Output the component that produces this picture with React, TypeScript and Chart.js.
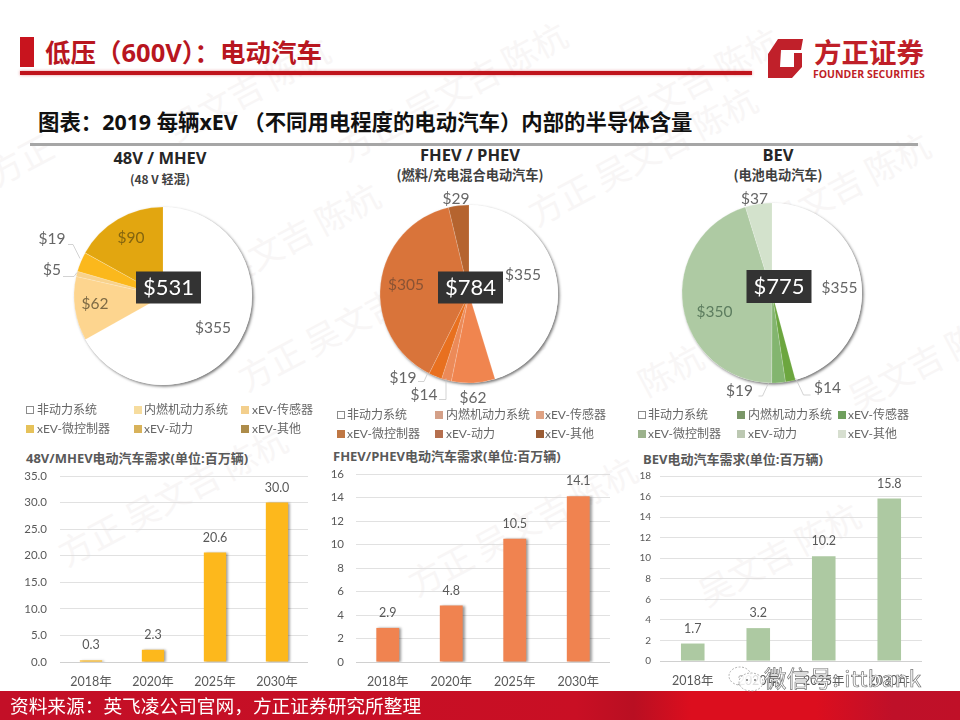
import React, { useEffect, useRef } from "react";
import { Chart, registerables } from "chart.js";

Chart.register(...registerables);

const FONT = "Lato, 'Noto Sans CJK SC', sans-serif";
const CJK = "'Noto Sans CJK SC', sans-serif";

// ---- data ----
const partCategories = ["非动力系统", "内燃机动力系统", "xEV-传感器", "xEV-微控制器", "xEV-动力", "xEV-其他"];
const mhevContent = [355, 62, 5, 19, 90];
const phevContent = [355, 62, 14, 19, 305, 29];
const bevContent = [355, 14, 19, 350, 37];
const mhevTotal = "$531";
const phevTotal = "$784";
const bevTotal = "$775";

const years = ["2018年", "2020年", "2025年", "2030年"];
const mhevDemand = [0.3, 2.3, 20.6, 30.0];
const phevDemand = [2.9, 4.8, 10.5, 14.1];
const bevDemand = [1.7, 3.2, 10.2, 15.8];

// ---- styling / layout ----
type PieCfg = {
  cx: number; cy: number; r: number; values: number[]; colors: string[]; total: string;
  box: [number, number, number, number];
  labels: { x: number; y: number; color: string; line?: [number, number][] }[];
};

const pies: PieCfg[] = [
  {
    cx: 163, cy: 295.5, r: 89, values: mhevContent, total: mhevTotal,
    colors: ["#ffffff", "#fdd58f", "#f8d28c", "#fbb81c", "#e2a610"],
    box: [136, 271, 65, 32],
    labels: [
      { x: 213, y: 327, color: "#666666" },
      { x: 95, y: 303, color: "#7d6a45" },
      { x: 52, y: 269, color: "#666666", line: [[63, 276], [74, 276], [77, 272]] },
      { x: 52, y: 238, color: "#666666", line: [[68, 244], [73, 244], [80, 258]] },
      { x: 131, y: 237, color: "#84650f" },
    ],
  },
  {
    cx: 469, cy: 293.5, r: 89, values: phevContent, total: phevTotal,
    colors: ["#ffffff", "#f0854f", "#ec8a58", "#e8701f", "#d9743a", "#b5642f"],
    box: [438, 271, 65, 32],
    labels: [
      { x: 523, y: 274, color: "#666666" },
      { x: 473, y: 397, color: "#666666" },
      { x: 424, y: 394, color: "#666666", line: [[439, 399], [446, 399], [446, 378]] },
      { x: 403, y: 377, color: "#666666", line: [[418, 381], [424, 381], [428, 372]] },
      { x: 406, y: 284, color: "#8a5334" },
      { x: 456, y: 198, color: "#666666" },
    ],
  },
  {
    cx: 771.5, cy: 293, r: 90, values: bevContent, total: bevTotal,
    colors: ["#ffffff", "#6ca63f", "#83b56f", "#aecaa3", "#d3e2cc"],
    box: [746, 270, 65, 33],
    labels: [
      { x: 839, y: 288, color: "#666666" },
      { x: 827, y: 388, color: "#666666", line: [[810, 395], [803, 395], [795, 378]] },
      { x: 739, y: 391, color: "#666666", line: [[758, 396], [762, 396], [768, 383]] },
      { x: 714, y: 312, color: "#5d7d5f" },
      { x: 754, y: 199, color: "#666666" },
    ],
  },
];

const legends = [
  {
    cols: [[26, 37], [134, 144], [241, 252]], rows: [410, 429],
    colors: ["#ffffff", "#f6dc9e", "#f3cf8d", "#e6c25a", "#d8b25a", "#ad8c4a"],
  },
  {
    cols: [[337, 347], [435, 446], [536, 545]], rows: [415, 434],
    colors: ["#ffffff", "#d4a088", "#dfa283", "#bf7744", "#b56f4e", "#9a5c34"],
  },
  {
    cols: [[638, 648], [737, 748], [838, 848]], rows: [415, 434],
    colors: ["#ffffff", "#7a9668", "#6f9f5d", "#9cb28c", "#bcc8b2", "#d7dfd0"],
  },
];

type BarCfg = {
  left: number; right: number; top: number; bottom: number; values: number[]; color: string;
  max: number; step: number; decimals: number; tickSize: number; tickPad: number; shadow: boolean;
};
const bars: BarCfg[] = [
  { left: 60, right: 308, top: 476, bottom: 662, values: mhevDemand, color: "#fdb81c", max: 35, step: 5, decimals: 1, tickSize: 11.5, tickPad: 13, shadow: true },
  { left: 356, right: 610, top: 474, bottom: 662, values: phevDemand, color: "#f08350", max: 16, step: 2, decimals: 0, tickSize: 11.5, tickPad: 12, shadow: true },
  { left: 660, right: 922, top: 476, bottom: 661, values: bevDemand, color: "#adc9a2", max: 18, step: 2, decimals: 0, tickSize: 10, tickPad: 9, shadow: false },
];

const pieHeads = [
  { x: 160, y1: 158, y2: 179, main: "48V / MHEV", sub: "(48 V 轻混)", subSize: 12 },
  { x: 470, y1: 155, y2: 175, main: "FHEV / PHEV", sub: "(燃料/充电混合电动汽车)", subSize: 13.2 },
  { x: 778, y1: 155, y2: 175, main: "BEV", sub: "(电池电动汽车)", subSize: 13.2 },
];
const barHeads = [
  { x: 26, y: 458, text: "48V/MHEV电动汽车需求(单位:百万辆)" },
  { x: 333, y: 456, text: "FHEV/PHEV电动汽车需求(单位:百万辆)" },
  { x: 643, y: 459, text: "BEV电动汽车需求(单位:百万辆)" },
];
const marks = [
  [-10, 150, "方正"], [170, 105, "吴文吉 陈杭"], [340, 125, "方正 吴文吉 陈杭"], [620, 95, "吴文吉 陈杭"],
  [530, 190, "方正 吴文吉 陈杭"], [220, 250, "吴文吉 陈杭"], [770, 200, "吴文吉 陈杭"],
  [240, 355, "方正 吴文吉 陈杭"], [640, 360, "陈杭"], [850, 375, "吴文吉 陈杭"], [60, 530, "方正 吴文吉 陈杭"],
  [410, 560, "方正 吴文吉 陈杭"], [700, 570, "吴文吉 陈杭"], [480, 340, "陈杭"],
] as [number, number, string][];

// ---- components ----
function PieChart({ cfg }: { cfg: PieCfg }) {
  const ref = useRef<HTMLCanvasElement>(null);
  const halfW = 135, halfH = 122;
  useEffect(() => {
    const ox = cfg.cx - halfW, oy = cfg.cy - halfH;
    const chart = new Chart(ref.current!, {
      type: "pie",
      data: {
        labels: partCategories,
        datasets: [{ data: cfg.values, backgroundColor: cfg.colors, borderColor: "rgba(255,255,255,0.25)", borderWidth: 0.6, radius: cfg.r }],
      },
      options: {
        responsive: false, animation: false,
        layout: { padding: 0 },
        plugins: { legend: { display: false }, tooltip: { enabled: false } },
      },
      plugins: [{
        id: "pieDecor",
        beforeDatasetsDraw(c: any) {
          const arc = c.getDatasetMeta(0).data[0];
          const ctx = c.ctx;
          ctx.save();
          ctx.shadowColor = "rgba(0,0,0,0.55)";
          ctx.shadowBlur = 3;
          ctx.shadowOffsetX = 1.5;
          ctx.shadowOffsetY = 1.5;
          ctx.fillStyle = "#ffffff";
          ctx.beginPath();
          ctx.arc(arc.x, arc.y, arc.outerRadius, 0, Math.PI * 2);
          ctx.fill();
          ctx.restore();
        },
        afterDatasetsDraw(c: any) {
          const ctx = c.ctx;
          ctx.save();
          ctx.font = `15.5px ${FONT}`;
          ctx.textAlign = "center";
          ctx.textBaseline = "middle";
          cfg.labels.forEach((l, i) => {
            if (l.line) {
              ctx.strokeStyle = "#c8c8c8";
              ctx.lineWidth = 0.8;
              ctx.beginPath();
              l.line.forEach(([x, y], j) => (j ? ctx.lineTo(x - ox, y - oy) : ctx.moveTo(x - ox, y - oy)));
              ctx.stroke();
            }
            ctx.fillStyle = l.color;
            ctx.fillText("$" + cfg.values[i], l.x - ox, l.y - oy);
          });
          const [bx, by, bw, bh] = cfg.box;
          ctx.fillStyle = "#333333";
          ctx.fillRect(bx - ox, by - oy, bw, bh);
          ctx.fillStyle = "#ffffff";
          ctx.font = `22px ${FONT}`;
          ctx.fillText(cfg.total, bx - ox + bw / 2, by - oy + bh / 2);
          ctx.restore();
        },
      }],
    } as any);
    return () => chart.destroy();
  }, []);
  return (
    <canvas ref={ref} width={halfW * 2} height={halfH * 2}
      style={{ position: "absolute", left: cfg.cx - halfW, top: cfg.cy - halfH, width: halfW * 2, height: halfH * 2 }} />
  );
}

function BarChart({ cfg }: { cfg: BarCfg }) {
  const ref = useRef<HTMLCanvasElement>(null);
  const axisW = 48, axisH = 30, padTop = 10;
  useEffect(() => {
    const chart = new Chart(ref.current!, {
      type: "bar",
      data: {
        labels: years,
        datasets: [{ data: cfg.values, backgroundColor: cfg.color, barPercentage: 0.36, categoryPercentage: 1 }],
      },
      options: {
        responsive: false, animation: false,
        layout: { padding: { top: padTop, left: 0, right: 0, bottom: 0 } },
        plugins: { legend: { display: false }, tooltip: { enabled: false } },
        scales: {
          x: {
            afterFit: (s: any) => { s.height = axisH; s.paddingLeft = 0; s.paddingRight = 0; },
            grid: { display: false, drawTicks: false },
            border: { color: "#d0d0d0" },
            ticks: { color: "#595959", font: { family: FONT, size: 12.5 }, padding: 12, maxRotation: 0, autoSkip: false },
          },
          y: {
            min: 0, max: cfg.max,
            afterFit: (s: any) => { s.width = axisW; s.paddingTop = 0; s.paddingBottom = 0; },
            grid: { color: "#d9d9d9", lineWidth: 0.8, drawTicks: false },
            border: { display: false },
            ticks: {
              stepSize: cfg.step, color: "#595959", padding: cfg.tickPad,
              font: { family: FONT, size: cfg.tickSize },
              callback: (v: any) => Number(v).toFixed(cfg.decimals),
            },
          },
        },
      },
      plugins: [{
        id: "barDecor",
        beforeDatasetDraw(c: any) {
          c.ctx.save();
          if (cfg.shadow) {
            c.ctx.shadowColor = "rgba(0,0,0,0.4)";
            c.ctx.shadowBlur = 2.5;
            c.ctx.shadowOffsetX = 2;
            c.ctx.shadowOffsetY = 0.5;
          }
        },
        afterDatasetDraw(c: any) { c.ctx.restore(); },
        afterDatasetsDraw(c: any) {
          const ctx = c.ctx;
          ctx.save();
          ctx.fillStyle = "#595959";
          ctx.font = `12.5px ${FONT}`;
          ctx.textAlign = "center";
          ctx.textBaseline = "middle";
          c.getDatasetMeta(0).data.forEach((b: any, i: number) => {
            ctx.fillText(cfg.values[i].toFixed(1), b.x, b.y - 15);
          });
          ctx.restore();
        },
      }],
    } as any);
    return () => chart.destroy();
  }, []);
  const w = cfg.right - cfg.left + axisW;
  const h = cfg.bottom - cfg.top + padTop + axisH;
  return (
    <canvas ref={ref} width={w} height={h}
      style={{ position: "absolute", left: cfg.left - axisW, top: cfg.top - padTop, width: w, height: h }} />
  );
}

function T({ x, y, text, style }: { x: number; y: number; text: string; style?: React.CSSProperties }) {
  return (
    <span style={{ position: "absolute", left: x, top: y, transform: "translateY(-50%)", whiteSpace: "nowrap", fontFamily: CJK, lineHeight: 1, ...style }}>
      {text}
    </span>
  );
}

export default function App() {
  return (
    <div style={{ position: "absolute", left: 0, top: 0, width: 960, height: 720, overflow: "hidden", background: "#ffffff" }}>
      {marks.map(([x, y, t], i) => (
        <span key={i} style={{ position: "absolute", left: x, top: y, whiteSpace: "nowrap", fontFamily: CJK, fontSize: 34, color: "#f8f6f6", transform: "rotate(-28deg)", transformOrigin: "left center" }}>{t}</span>
      ))}

      {/* header */}
      <div style={{ position: "absolute", left: 20, top: 37, width: 14, height: 30, background: "#c8141e" }} />
      <T x={45} y={53} text="低压（600V）：电动汽车" style={{ fontSize: 25.5, fontWeight: 700, color: "#b8161f", fontFamily: `'Open Sans', ${CJK}` }} />
      <div style={{ position: "absolute", left: 20, top: 71, width: 732, height: 4, background: "#c0141c", boxShadow: "0 0 3px rgba(200,20,30,.5)" }} />
      <svg style={{ position: "absolute", left: 767, top: 38 }} width={38} height={42} viewBox="0 0 38 42">
        <path fill="#c0202a" fillRule="evenodd" d="M11 1 L36 1 L34 12 L14 12 L13 29 L27 29 L27 15 L35 15 L35 29 L25 40 L1 40 L1 16 Z" />
      </svg>
      <T x={814} y={52} text="方正证券" style={{ fontSize: 27.5, fontWeight: 700, color: "#bf1f28" }} />
      <T x={813} y={74} text="FOUNDER SECURITIES" style={{ fontSize: 10.5, fontWeight: 700, color: "#bf1f28", fontFamily: "'Open Sans', sans-serif" }} />

      <T x={38} y={122} text="图表：2019 每辆xEV （不同用电程度的电动汽车）内部的半导体含量" style={{ fontSize: 21.4, fontWeight: 700, color: "#111111", fontFamily: `'Open Sans', ${CJK}` }} />
      <div style={{ position: "absolute", left: 30, top: 143, width: 888, height: 3, background: "#a6a6a6" }} />

      {/* pie titles */}
      {pieHeads.map((h, i) => (
        <React.Fragment key={i}>
          <T x={h.x} y={h.y1} text={h.main} style={{ fontSize: 16.5, fontWeight: 700, color: "#262626", fontFamily: `'Open Sans', ${CJK}`, transform: "translate(-50%,-50%)" }} />
          <T x={h.x} y={h.y2} text={h.sub} style={{ fontSize: h.subSize, fontWeight: 700, color: "#404040", transform: "translate(-50%,-50%)" }} />
        </React.Fragment>
      ))}

      {pies.map((p, i) => <PieChart key={i} cfg={p} />)}

      {/* legends */}
      {legends.map((l, i) => partCategories.map((name, j) => {
        const col = l.cols[j % 3];
        const y = l.rows[j < 3 ? 0 : 1];
        return (
          <React.Fragment key={`${i}-${j}`}>
            <div style={{ position: "absolute", left: col[0], top: y - 4, width: 8, height: 8, boxSizing: "border-box", background: l.colors[j], border: j === 0 ? "1px solid #8c8c8c" : "none" }} />
            <T x={col[1]} y={y} text={name} style={{ fontSize: 12, color: "#666666", fontFamily: `Lato, ${CJK}` }} />
          </React.Fragment>
        );
      }))}

      {/* bar charts */}
      {barHeads.map((h, i) => (
        <T key={i} x={h.x} y={h.y} text={h.text} style={{ fontSize: 13, fontWeight: 700, color: "#595959", fontFamily: `'Open Sans', ${CJK}` }} />
      ))}
      {bars.map((b, i) => <BarChart key={i} cfg={b} />)}

      {/* footer */}
      <div style={{ position: "absolute", left: 0, top: 691, width: 960, height: 29, background: "linear-gradient(90deg,#c30f27 0%,#c90f24 60%,#b90f22 66%,#dc0e1e 72%,#dc0e1e 85%,#bf1029 93%,#c01028 100%)" }} />
      <T x={10} y={705} text="资料来源：英飞凌公司官网，方正证券研究所整理" style={{ fontSize: 18.7, color: "#ffffff" }} />

      {/* WeChat stamp */}
      <svg style={{ position: "absolute", left: 716, top: 664 }} width={50} height={30} viewBox="0 0 50 30">
        <ellipse cx="24" cy="12" rx="11" ry="9" fill="#ffffff" fillOpacity="0.6" stroke="#a0a0a0" strokeWidth="0.8" strokeDasharray="2 1.5" />
        <ellipse cx="35" cy="18" rx="12" ry="9" fill="#ffffff" fillOpacity="0.8" stroke="#a0a0a0" strokeWidth="0.8" strokeDasharray="2 1.5" />
        <circle cx="31" cy="16" r="1" fill="#777777" /><circle cx="39" cy="16" r="1" fill="#777777" />
      </svg>
      <T x={764} y={677} text="微信号: ittbank" style={{ fontSize: 22.5, color: "#ffffff", WebkitTextStroke: "0.7px #777777", letterSpacing: 0.3 } as any} />
    </div>
  );
}
